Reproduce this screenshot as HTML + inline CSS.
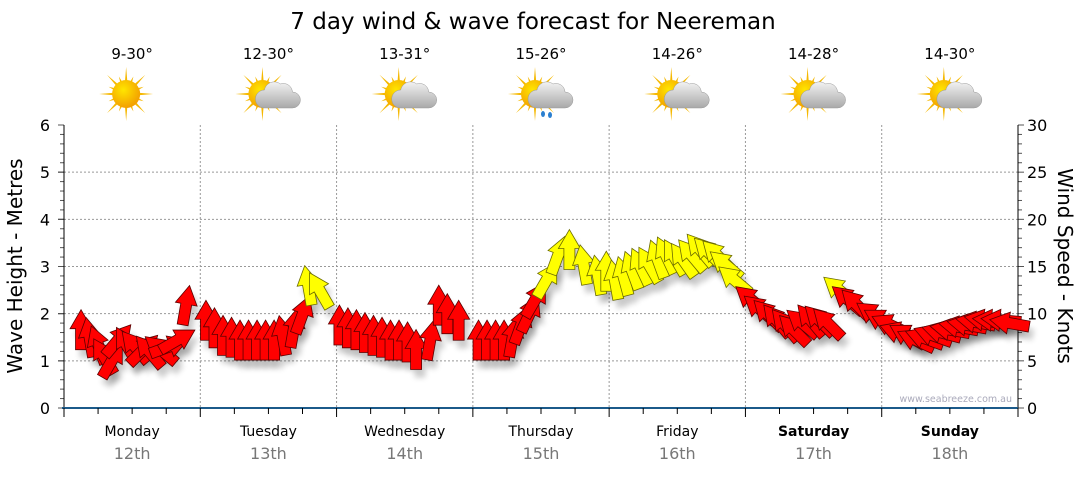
<!DOCTYPE html>
<html><head><meta charset="utf-8"><style>
body{margin:0;background:#fff;width:1080px;height:475px;overflow:hidden}
svg{font-family:"DejaVu Sans","Liberation Sans",sans-serif}
</style></head><body>
<svg id="c" width="1080" height="475" viewBox="0 0 1080 475">
<defs>
<radialGradient id="sun" cx="0.4" cy="0.35" r="0.7"><stop offset="0" stop-color="#ffe600"/><stop offset="1" stop-color="#f29a00"/></radialGradient>
<linearGradient id="cloud" x1="0" y1="0" x2="0" y2="1"><stop offset="0" stop-color="#f2f2f2"/><stop offset="1" stop-color="#a9a9a9"/></linearGradient>
<filter id="sh" x="-50%" y="-50%" width="200%" height="200%"><feGaussianBlur stdDeviation="3"/></filter>
</defs>
<text x="533" y="29" text-anchor="middle" font-size="23" fill="#000">7 day wind &amp; wave forecast for Neereman</text>
<g id="grid"></g>
<g id="axes"></g>
<g id="icons"></g>
<g id="arrows"></g>
<text x="1012" y="402" text-anchor="end" font-size="9.5" fill="#aab">www.seabreeze.com.au</text>
<text transform="translate(22,266) rotate(-90)" text-anchor="middle" font-size="20">Wave Height - Metres</text>
<text transform="translate(1058,266) rotate(90)" text-anchor="middle" font-size="20">Wind Speed - Knots</text>
</svg>
<script>
const days=["Monday","Tuesday","Wednesday","Thursday","Friday","Saturday","Sunday"];
const dates=["12th","13th","14th","15th","16th","17th","18th"];
const temps=["9-30°","12-30°","13-31°","15-26°","14-26°","14-28°","14-30°"];
const icons=["sun","cloud","cloud","rain","cloud","cloud","cloud"];
const waveTicks=[0,1,2,3,4,5,6];
const windTicks=[0,5,10,15,20,25,30];
const hours=[3,4.5,6,7,8.5,9.5,11,12.5,14,15,17,18.5,20,21.5, 25,26.5,28,29.5,31,32.5,34,35.5,37,38.5,40.5,42,43,45, 48.5,50,51.5,53,54.5,56,57.5,59,60.5,62,64.5,66,67.5,69.5, 73,74.5,76,77.5,79,80.5,82,83,85,87,89,91.5, 94,95.5,97,98.5,100,101.5,103,104.5,106,107.5,109,110.5,112,113.5,115,116.5,118, 121,122.5,124,125.5,127,128.5,130,131.5,133,134.5,136.5,138,139.5, 142.5,144,145.5,147,148.5,150,151.5,153,154.5,156,157.5,159,160.5,162,163.5,165,166.5];
const knots=[8.3,7.5,6.7,5.5,5.1,7.2,6.7,6.5,6.2,6.0,6.2,6.5,7.2,10.9, 9.3,8.5,7.7,7.5,7.2,7.2,7.2,7.2,7.2,7.7,8.5,9.9,13.0,12.5, 8.8,8.5,8.3,8.0,7.7,7.5,7.2,7.2,7.0,6.2,7.2,10.9,10.0,9.3, 7.2,7.2,7.2,7.2,7.5,8.8,10.0,11.5,13.6,16.2,16.8,15.2, 14.1,14.5,13.6,14.0,14.6,15.0,15.2,15.8,16.2,16.0,15.7,16.2,16.8,16.5,16.2,15.2,13.6, 11.5,10.5,9.9,9.3,8.8,8.3,9.0,9.3,9.3,9.0,12.5,11.5,11.0, 9.9,9.3,8.8,8.0,7.7,7.2,7.4,7.7,8.0,8.3,8.6,8.8,9.1,9.3,9.3,9.3,9.0];
const dirs=[0,-10,-20,-30,30,40,-30,-40,45,-40,-50,70,60,10, 0,0,0,0,0,0,0,0,0,-10,10,20,-10,-30, 0,0,0,0,0,0,0,0,0,0,10,0,0,0, 0,0,0,0,10,20,25,30,30,20,0,-10, -10,0,-10,-15,-20,-25,-30,-20,-25,-30,-35,-40,-40,-45,-45,-50,-50, -50,-50,-45,-40,-40,-45,-50,-40,-45,-45,-50,-50,-45, -55,-60,-65,-70,-60,-65,-70,-70,-75,-80,-80,-80,-80,-80,-85,-85,-80];
const NS="http://www.w3.org/2000/svg";
const X0=64,X1=1018,Y0=408,Y1=125;
const xH=h=>X0+h/168*(X1-X0);
const yW=m=>Y0-m/6*(Y0-Y1);
const yK=k=>Y0-k/30*(Y0-Y1);
function mk(p,tag,a){const e=document.createElementNS(NS,tag);for(const k in a)e.setAttribute(k,a[k]);p.appendChild(e);return e;}
const grid=document.getElementById('grid'),axes=document.getElementById('axes'),ic=document.getElementById('icons'),ar=document.getElementById('arrows');
waveTicks.forEach(m=>{
 if(m>0&&m<6){const l=mk(grid,'line',{x1:X0,x2:X1,y1:yW(m),y2:yW(m),stroke:'#999','stroke-dasharray':'2,2'});
 
 }
 const t=mk(axes,'text',{x:50,y:yW(m)+6,'text-anchor':'end','font-size':16});t.textContent=m;
 
 
 mk(axes,'line',{x1:X0-6,x2:X0,y1:yW(m),y2:yW(m),stroke:'#000'});
});
for(let i=0;i<=30;i++){const y=Y0-i/30*(Y0-Y1);mk(axes,'line',{x1:X0-(i%5?4:6),x2:X0,y1:y,y2:y,stroke:'#555'});mk(axes,'line',{x1:X1,x2:X1+(i%5?4:6),y1:y,y2:y,stroke:'#555'});}
windTicks.forEach(k=>{const t=mk(axes,'text',{x:1027,y:yK(k)+6,'font-size':16});t.textContent=k;
 
 });
mk(axes,'line',{x1:X0,x2:X0,y1:Y1,y2:Y0,stroke:'#000'});
mk(axes,'line',{x1:X1,x2:X1,y1:Y1,y2:Y0,stroke:'#000'});
mk(axes,'line',{x1:X0-2,x2:X1,y1:Y0,y2:Y0,stroke:'#1b5a8a','stroke-width':2});
for(let h=0;h<=168;h+=6){const x=xH(h);mk(axes,'line',{x1:x,x2:x,y1:Y0,y2:Y0+(h%24?6:9),stroke:'#000'});}
days.forEach((d,i)=>{
 const cx=xH(i*24+12);
 if(i>0){const l=mk(grid,'line',{x1:xH(i*24),x2:xH(i*24),y1:Y1,y2:Y0,stroke:'#999','stroke-dasharray':'2,2'});
 
 }
 const t=mk(axes,'text',{x:cx,y:436,'text-anchor':'middle','font-size':14,'font-weight':i>=5?'bold':'normal'});t.textContent=d;
 
 
 const t2=mk(axes,'text',{x:cx,y:459,'text-anchor':'middle','font-size':16,fill:'#777'});t2.textContent=dates[i];
 
 
 const t3=mk(ic,'text',{x:cx,y:59,'text-anchor':'middle','font-size':15});t3.textContent=temps[i];
 
 
 const g=mk(ic,'g',{transform:`translate(${cx-6},${94})`});
 
 
 for(let a=0;a<16;a++){const r=a%2?19:27;const ang=a*Math.PI/8;
  mk(g,'polygon',{points:`${Math.cos(ang-0.12)*11},${Math.sin(ang-0.12)*11} ${Math.cos(ang)*r},${Math.sin(ang)*r} ${Math.cos(ang+0.12)*11},${Math.sin(ang+0.12)*11}`,fill:'#f5b800'});}
 mk(g,'circle',{cx:0,cy:0,r:14,fill:'url(#sun)'});
 if(icons[i]!=='sun'){
  mk(g,'path',{d:'M2,14 h28 a8,8 0 0 0 0,-16 a9,9 0 0 0 -12,-8 a10,10 0 0 0 -16,6 a8,8 0 0 0 0,18 z',fill:'url(#cloud)',stroke:'#999','stroke-width':0.5});
 }
 if(icons[i]==='rain'){mk(g,'ellipse',{cx:8,cy:20,rx:2,ry:3,fill:'#2a7fd0'});mk(g,'ellipse',{cx:15,cy:21,rx:2,ry:3,fill:'#2a7fd0'});}
});
const AR="M0,-20 L11,-1 L5.5,-1 L5.5,20 L-5.5,20 L-5.5,-1 L-11,-1 Z";
hours.forEach((h,i)=>{
 const x=xH(h),y=yK(knots[i]);
 mk(ar,'path',{d:AR,transform:`translate(${x+4},${y+8}) rotate(${dirs[i]})`,fill:'#000',opacity:0.2,filter:'url(#sh)'});
});
hours.forEach((h,i)=>{
 const x=xH(h),y=yK(knots[i]);
 const p=mk(ar,'path',{d:AR,transform:`translate(${x},${y}) rotate(${dirs[i]})`,fill:knots[i]>=12?'#ffff00':'#ff0000',stroke:knots[i]>=12?'#6b6b00':'#5a0000','stroke-width':0.8});
 
 
});
</script>
</body></html>
